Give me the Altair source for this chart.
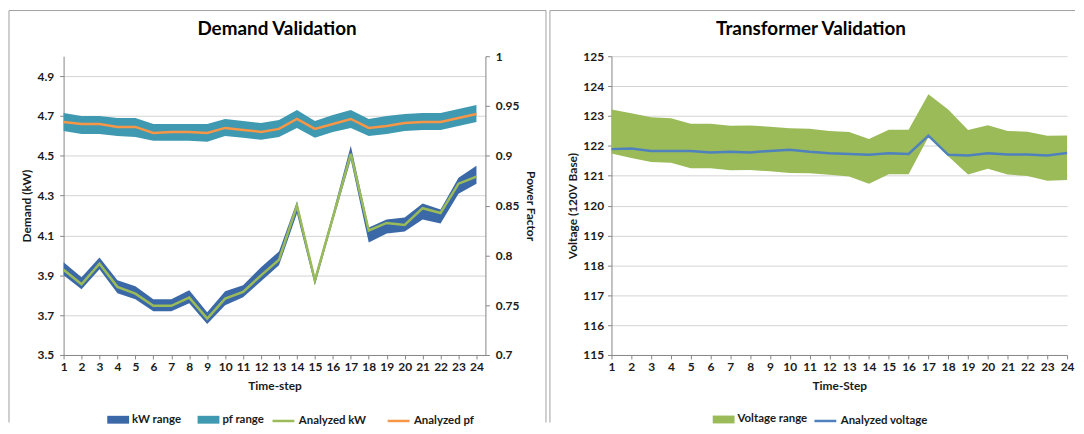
import altair as alt
import pandas as pd

# ---------------- data ----------------
steps = list(range(1, 25))

kw_analyzed = [3.928, 3.855, 3.958, 3.842, 3.808, 3.747, 3.747, 3.788, 3.683, 3.783, 3.817, 3.900,
               3.978, 4.250, 3.875, 4.190, 4.510, 4.125, 4.163, 4.153, 4.237, 4.213, 4.360, 4.395]
kw_low = [3.900, 3.830, 3.930, 3.810, 3.780, 3.720, 3.720, 3.760, 3.655, 3.750, 3.790, 3.870,
          3.950, 4.210, 3.850, 4.170, 4.480, 4.065, 4.110, 4.120, 4.180, 4.160, 4.310, 4.360]
kw_high = [3.965, 3.890, 3.990, 3.875, 3.845, 3.780, 3.780, 3.825, 3.715, 3.820, 3.850, 3.940,
           4.020, 4.270, 3.890, 4.210, 4.550, 4.140, 4.180, 4.190, 4.260, 4.230, 4.390, 4.450]

pf_analyzed = [0.934, 0.932, 0.932, 0.929, 0.929, 0.923, 0.924, 0.924, 0.923, 0.928, 0.926, 0.924,
               0.927, 0.937, 0.927, 0.932, 0.937, 0.928, 0.930, 0.933, 0.934, 0.934, 0.938, 0.942]
pf_low = [0.925, 0.922, 0.922, 0.920, 0.919, 0.915, 0.915, 0.915, 0.914, 0.920, 0.918, 0.916,
          0.919, 0.928, 0.918, 0.924, 0.928, 0.920, 0.922, 0.925, 0.926, 0.926, 0.930, 0.934]
pf_high = [0.943, 0.940, 0.940, 0.938, 0.938, 0.932, 0.932, 0.932, 0.932, 0.937, 0.935, 0.933,
           0.936, 0.946, 0.935, 0.941, 0.946, 0.937, 0.940, 0.942, 0.943, 0.943, 0.947, 0.951]

volt_analyzed = [121.89, 121.91, 121.83, 121.83, 121.83, 121.78, 121.80, 121.78, 121.83, 121.87, 121.80, 121.75,
                 121.73, 121.70, 121.75, 121.73, 122.34, 121.70, 121.68, 121.75, 121.71, 121.71, 121.68, 121.76]
volt_low = [121.74, 121.59, 121.46, 121.43, 121.25, 121.25, 121.18, 121.19, 121.15, 121.09, 121.08, 121.03,
            120.97, 120.73, 121.05, 121.05, 122.30, 121.65, 121.04, 121.23, 121.04, 120.99, 120.83, 120.86]
volt_high = [123.22, 123.09, 122.96, 122.92, 122.74, 122.74, 122.67, 122.68, 122.64, 122.59, 122.57, 122.50,
             122.46, 122.23, 122.54, 122.54, 123.73, 123.22, 122.53, 122.69, 122.50, 122.47, 122.34, 122.35]

kw_ticks = [3.5, 3.7, 3.9, 4.1, 4.3, 4.5, 4.7, 4.9]
pf_ticks = [0.7, 0.75, 0.8, 0.85, 0.9, 0.95, 1.0]
volt_ticks = list(range(115, 126))

# ---------------- style ----------------
FONT = "Lato"
TEXT = "#1a1a1a"
AXIS_GRAY = "#868686"
GRID = "#d4d4d4"
FRAME = "#a0a0a0"
KW_BAND = "#3b68a6"
PF_BAND = "#3f99b1"
KW_LINE = "#9bbb59"
PF_LINE = "#f79646"
V_BAND = "#9bbb59"
V_LINE = "#4f81bd"
RECT = "M-1,-0.36L1,-0.36L1,0.36L-1,0.36Z"

W_L, W_R, H = 425, 459, 301
LEG_Y = 355
FRAME_TOP, FRAME_BOTTOM = -46, 369


def fill_legend(x):
    return alt.Legend(orient="none", legendX=x, legendY=LEG_Y, direction="horizontal", title=None,
                      symbolType=RECT, symbolSize=484, symbolStrokeWidth=0, symbolOpacity=1)


def stroke_legend(x):
    return alt.Legend(orient="none", legendX=x, legendY=LEG_Y, direction="horizontal", title=None,
                      symbolType="stroke", symbolSize=484, symbolStrokeWidth=2.5)


def frame_layers(x1, x2, right_edge=True):
    fr = alt.Chart(pd.DataFrame({"a": [0]}))
    layers = [
        fr.mark_rule(color=FRAME, strokeWidth=1).encode(
            x=alt.value(x1), x2=alt.value(x2), y=alt.value(FRAME_TOP)),
        fr.mark_rule(color=FRAME, strokeWidth=1).encode(
            x=alt.value(x1), y=alt.value(FRAME_TOP), y2=alt.value(FRAME_BOTTOM)),
    ]
    if right_edge:
        layers.append(fr.mark_rule(color=FRAME, strokeWidth=1).encode(
            x=alt.value(x2), y=alt.value(FRAME_TOP), y2=alt.value(FRAME_BOTTOM)))
    return layers


def title_layer(text, cx):
    return alt.Chart(pd.DataFrame({"a": [0]})).mark_text(
        font=FONT, fontSize=19, fontWeight="bold", color="#000000", align="center", baseline="middle"
    ).encode(x=alt.value(cx), y=alt.value(-27), text=alt.value(text))


# ---------------- left: Demand Validation ----------------
ldf = pd.DataFrame({"step": steps, "kw": kw_analyzed, "kw_lo": kw_low, "kw_hi": kw_high,
                    "pf": pf_analyzed, "pf_lo": pf_low, "pf_hi": pf_high})
lbase = alt.Chart(ldf)

xl = alt.X("step:Q", scale=alt.Scale(domain=[1, 24.5], nice=False, zero=False),
           axis=alt.Axis(values=steps, format="d", title="Time-step", grid=False, labelFlush=False,
                         labelPadding=3, titlePadding=8))

kw_axis = alt.Axis(orient="left", values=kw_ticks, format=".1f", title="Demand (kW)", grid=True,
                   labelFlush=False, labelPadding=6, titlePadding=4)
kw_scale = alt.Scale(domain=[3.5, 5.0], nice=False, zero=False)
pf_axis = alt.Axis(orient="right", values=pf_ticks, format="~g", title="Power Factor", grid=False,
                   labelFlush=False, labelPadding=6, titlePadding=5)
pf_scale = alt.Scale(domain=[0.7, 1.0], nice=False, zero=False)

fill_scale_l = alt.Scale(domain=["kW range", "pf range"], range=[KW_BAND, PF_BAND])
stroke_scale_l = alt.Scale(domain=["Analyzed kW", "Analyzed pf"], range=[KW_LINE, PF_LINE])

kw_area = lbase.transform_calculate(s="'kW range'").mark_area(opacity=1).encode(
    x=xl, y=alt.Y("kw_lo:Q", scale=kw_scale, axis=kw_axis), y2="kw_hi:Q",
    fill=alt.Fill("s:N", scale=fill_scale_l, legend=fill_legend(44)))
kw_line = lbase.transform_calculate(s="'Analyzed kW'").mark_line(strokeWidth=2.5).encode(
    x=xl, y=alt.Y("kw:Q", scale=kw_scale, axis=kw_axis),
    stroke=alt.Stroke("s:N", scale=stroke_scale_l, legend=stroke_legend(209)))
pf_area = lbase.transform_calculate(s="'pf range'").mark_area(opacity=1).encode(
    x=xl, y=alt.Y("pf_lo:Q", scale=pf_scale, axis=pf_axis), y2="pf_hi:Q",
    fill=alt.Fill("s:N", scale=fill_scale_l, legend=fill_legend(44)))
pf_line = lbase.transform_calculate(s="'Analyzed pf'").mark_line(strokeWidth=2.5).encode(
    x=xl, y=alt.Y("pf:Q", scale=pf_scale, axis=pf_axis),
    stroke=alt.Stroke("s:N", scale=stroke_scale_l, legend=stroke_legend(209)))

left = alt.layer(
    alt.layer(kw_area, kw_line),
    alt.layer(pf_area, pf_line),
    *frame_layers(-55, 486),
    title_layer("Demand Validation", 215),
).resolve_scale(y="independent").properties(width=W_L, height=H)

# ---------------- right: Transformer Validation ----------------
rdf = pd.DataFrame({"step": steps, "v": volt_analyzed, "v_lo": volt_low, "v_hi": volt_high})
rbase = alt.Chart(rdf)

xr = alt.X("step:Q", scale=alt.Scale(domain=[1, 24], nice=False, zero=False),
           axis=alt.Axis(values=steps, format="d", title="Time-Step", grid=False, labelFlush=False,
                         labelPadding=3, titlePadding=8))
v_axis = alt.Axis(orient="left", values=volt_ticks, format="d", title="Voltage (120V Base)", grid=True,
                  labelFlush=False, labelPadding=4, titlePadding=3)
v_scale = alt.Scale(domain=[115, 125], nice=False, zero=False)

v_area = rbase.transform_calculate(s="'Voltage range'").mark_area(opacity=1).encode(
    x=xr, y=alt.Y("v_lo:Q", scale=v_scale, axis=v_axis), y2="v_hi:Q",
    fill=alt.Fill("s:N", scale=alt.Scale(domain=["Voltage range"], range=[V_BAND]),
                  legend=fill_legend(102)))
v_line = rbase.transform_calculate(s="'Analyzed voltage'").mark_line(strokeWidth=2.5).encode(
    x=xr, y=alt.Y("v:Q", scale=v_scale, axis=v_axis),
    stroke=alt.Stroke("s:N", scale=alt.Scale(domain=["Analyzed voltage"], range=[V_LINE]),
                      legend=stroke_legend(203)))

right = alt.layer(
    v_area, v_line,
    *frame_layers(-62, W_R + 8, right_edge=False),
    title_layer("Transformer Validation", 201),
).properties(width=W_R, height=H)

chart = alt.hconcat(left, right, spacing=2).resolve_scale(
    fill="independent", stroke="independent"
).resolve_legend(
    fill="independent", stroke="independent"
).properties(
    padding=0, background="white"
).configure_view(stroke=None).configure_axis(
    domainColor=AXIS_GRAY, tickColor=AXIS_GRAY, tickSize=4, gridColor=GRID,
    labelFont=FONT, labelFontSize=12, labelFontWeight="bold", labelColor=TEXT,
    titleFont=FONT, titleFontSize=12, titleFontWeight="bold", titleColor=TEXT,
).configure_legend(
    labelFont=FONT, labelFontSize=11.5, labelFontWeight="bold", labelColor=TEXT,
    columnPadding=16, labelOffset=3,
)

chart.save("out.html", embed_options={"renderer": "svg", "actions": False})
